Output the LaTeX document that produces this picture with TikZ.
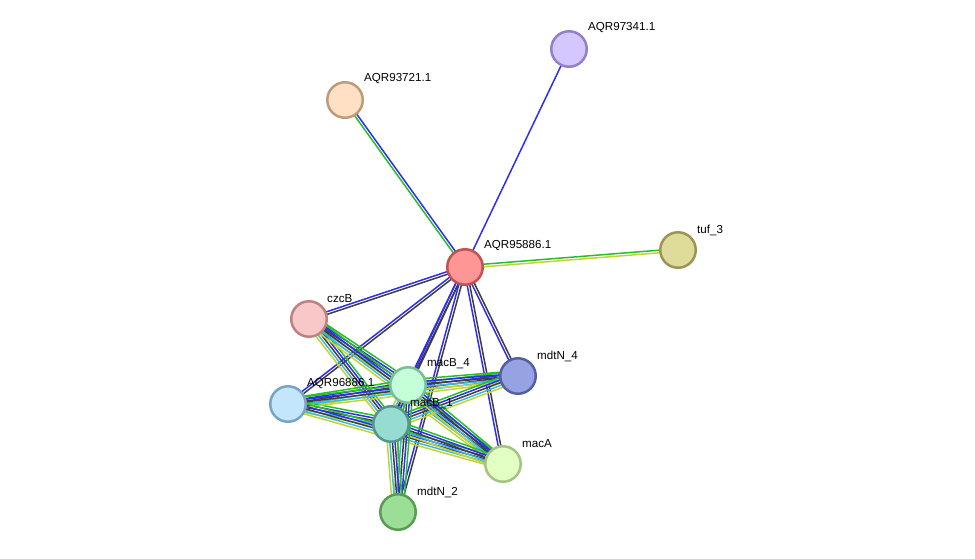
\documentclass[tikz,border=0pt]{standalone}
\usepackage{fontspec}
\setmainfont{Liberation Sans}
\usetikzlibrary{calc, backgrounds}
\definecolor{linkgreen}{RGB}{40,190,40}
\definecolor{linkblue}{RGB}{45,45,245}
\definecolor{linkblack}{RGB}{62,62,62}
\definecolor{linkcyan}{RGB}{60,185,215}
\definecolor{linkyellow}{RGB}{195,212,50}
\definecolor{hubfill}{RGB}{255,150,150}
\definecolor{hubline}{RGB}{192,82,82}
\definecolor{lilacfill}{RGB}{212,198,255}
\definecolor{lilacline}{RGB}{148,128,200}
\definecolor{peachfill}{RGB}{255,224,196}
\definecolor{peachline}{RGB}{190,155,122}
\definecolor{olivefill}{RGB}{222,220,152}
\definecolor{oliveline}{RGB}{155,150,85}
\definecolor{pinkfill}{RGB}{248,200,200}
\definecolor{pinkline}{RGB}{190,130,130}
\definecolor{navyfill}{RGB}{150,162,225}
\definecolor{navyline}{RGB}{85,96,160}
\definecolor{mintfill}{RGB}{196,255,216}
\definecolor{mintline}{RGB}{122,190,152}
\definecolor{skyfill}{RGB}{196,230,250}
\definecolor{skyline}{RGB}{120,165,195}
\definecolor{tealfill}{RGB}{150,220,210}
\definecolor{tealline}{RGB}{85,150,140}
\definecolor{limefill}{RGB}{226,255,196}
\definecolor{limeline}{RGB}{165,195,130}
\definecolor{leaffill}{RGB}{155,222,150}
\definecolor{leafline}{RGB}{90,155,85}

% parallel evidence lines between two proteins
\newcommand{\strands}[3]{%
  \foreach \off/\col in #3
    \draw[strand, color=\col] ($(#1)!\off pt!90:(#2)$) -- ($(#2)!\off pt!-90:(#1)$);}
\newcommand{\fullset}{-5.2/linkyellow,-2.6/linkcyan,0/linkblack,2.6/linkblue,5.2/linkgreen}
\newcommand{\bluebk}{-1.3/linkblue,1.3/linkblack}
\newcommand{\bluegreen}{-1.3/linkblue,1.3/linkgreen}
\newcommand{\greenyellow}{-1.3/linkyellow,1.3/linkgreen}
\newcommand{\blueonly}{0/linkblue}

\begin{document}
\begin{tikzpicture}[
  x=1pt, y=-1pt,
  prot/.style={circle, minimum size=35.5pt, inner sep=0pt, line width=2.5pt},
  lbl/.style={anchor=west, inner sep=0pt, font=\fontsize{11.6}{13}\selectfont},
  strand/.style={line width=1.5pt}
]
  \useasboundingbox (0,0) rectangle (975,558);

  \node[prot, fill=hubfill, draw=hubline] (aqr95886) at (465,267) {};
  \node[prot, fill=lilacfill, draw=lilacline] (aqr97341) at (569,49) {};
  \node[prot, fill=peachfill, draw=peachline] (aqr93721) at (345,100) {};
  \node[prot, fill=olivefill, draw=oliveline] (tuf3) at (678,250) {};
  \node[prot, fill=pinkfill, draw=pinkline] (czcB) at (309,319) {};
  \node[prot, fill=navyfill, draw=navyline] (mdtN4) at (518,376) {};
  \node[prot, fill=mintfill, draw=mintline] (macB4) at (408,385) {};
  \node[prot, fill=skyfill, draw=skyline] (aqr96886) at (288,404) {};
  \node[prot, fill=tealfill, draw=tealline] (macB1) at (391,424) {};
  \node[prot, fill=limefill, draw=limeline] (macA) at (503,464) {};
  \node[prot, fill=leaffill, draw=leafline] (mdtN2) at (398,512) {};

  \node[lbl] (aqr95886l) at ([shift={(19,-21)}]aqr95886.center) {AQR95886.1};
  \node[lbl] (aqr97341l) at ([shift={(19,-21)}]aqr97341.center) {AQR97341.1};
  \node[lbl] (aqr93721l) at ([shift={(19,-21)}]aqr93721.center) {AQR93721.1};
  \node[lbl] (tuf3l) at ([shift={(19,-20)}]tuf3.center) {tuf\_3};
  \node[lbl] (czcBl) at ([shift={(18,-20)}]czcB.center) {czcB};
  \node[lbl] (mdtN4l) at ([shift={(19,-20)}]mdtN4.center) {mdtN\_4};
  \node[lbl] (macB4l) at ([shift={(19,-21)}]macB4.center) {macB\_4};
  \node[lbl] (aqr96886l) at ([shift={(19,-20)}]aqr96886.center) {AQR96886.1};
  \node[lbl] (macB1l) at ([shift={(19,-20)}]macB1.center) {macB\_1};
  \node[lbl] (macAl) at ([shift={(19,-20)}]macA.center) {macA};
  \node[lbl] (mdtN2l) at ([shift={(19,-20)}]mdtN2.center) {mdtN\_2};

  \begin{scope}[on background layer]
    \strands{aqr95886}{aqr97341}{\blueonly}
    \strands{aqr95886}{aqr93721}{\bluegreen}
    \strands{aqr95886}{tuf3}{\greenyellow}
    \strands{aqr95886}{czcB}{\bluebk}
    \strands{aqr95886}{aqr96886}{\bluebk}
    \strands{aqr95886}{macB4}{\bluebk}
    \strands{aqr95886}{macB1}{\bluebk}
    \strands{aqr95886}{mdtN2}{\bluebk}
    \strands{aqr95886}{mdtN4}{\bluebk}
    \strands{aqr95886}{macA}{\bluebk}
    \strands{czcB}{macB4}{\fullset}
    \strands{czcB}{macB1}{\fullset}
    \strands{czcB}{macA}{\fullset}
    \strands{aqr96886}{macB4}{\fullset}
    \strands{aqr96886}{macB1}{\fullset}
    \strands{aqr96886}{mdtN4}{\fullset}
    \strands{aqr96886}{macA}{\fullset}
    \strands{macB4}{mdtN4}{\fullset}
    \strands{macB1}{mdtN4}{\fullset}
    \strands{macB4}{macA}{\fullset}
    \strands{macB1}{macA}{\fullset}
    \strands{macB4}{mdtN2}{\fullset}
    \strands{macB1}{mdtN2}{\fullset}
    \strands{macB4}{macB1}{\fullset}
  \end{scope}
\end{tikzpicture}
\end{document}
